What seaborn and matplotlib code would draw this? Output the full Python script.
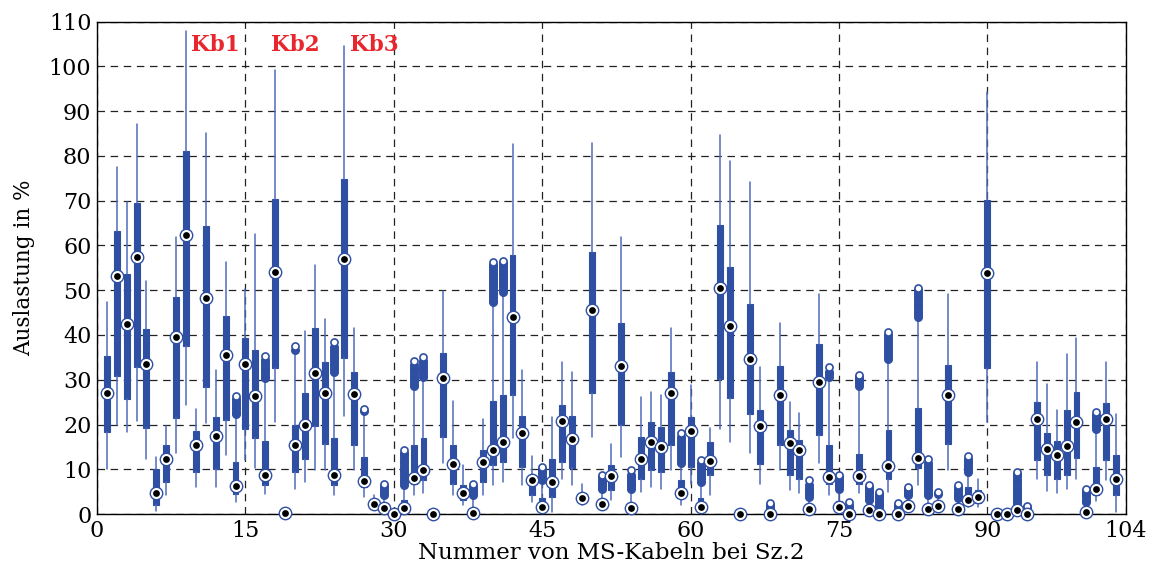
import numpy as np
import pandas as pd
import matplotlib
matplotlib.use("Agg")
import matplotlib.pyplot as plt
import seaborn as sns

# ---------------- data ----------------
cable_ids = list(range(1, 104))

whisker_low = [10.0, 19.8, 18.3, 20.8, 12.2, 0.7, 4.2, 13.7, 24.3, 6.1,
               20.4, 6.1, 13.1, 2.7, 12.0, 10.2, 4.5, 20.6, 0.2, 5.7,
               7.2, 9.8, 9.8, 4.2, 22.0, 9.8, 3.9, 1.0, 0.3, 0.0,
               0.3, 4.2, 4.6, 0.0, 11.3, 4.2, 2.0, 0.0, 4.2, 6.5,
               7.2, 16.9, 6.5, 2.6, 0.2, 0.5, 7.9, 6.5, 2.0, 17.2,
               1.0, 3.1, 12.8, 0.2, 5.0, 6.1, 5.7, 9.8, 2.0, 6.8,
               0.5, 4.2, 18.9, 16.1, 0.0, 13.7, 6.8, 0.0, 9.8, 5.3,
               4.6, 0.2, 11.3, 4.2, 0.3, 0.0, 4.6, 0.1, 0.0, 5.0,
               0.1, 0.8, 6.5, 0.2, 0.8, 9.8, 0.2, 1.5, 1.6, 20.6,
               0.0, 0.0, 0.1, 0.0, 7.9, 5.1, 4.6, 5.7, 7.9, 0.1,
               2.9, 7.6, 0.5]

q1 = [18.3, 30.8, 25.6, 32.8, 19.3, 2.0, 7.2, 21.5, 37.6, 9.4,
      28.4, 10.0, 20.9, 4.5, 18.9, 16.9, 6.5, 32.6, 0.2, 9.4,
      12.4, 19.7, 15.7, 6.5, 34.9, 15.4, 6.0, 1.8, 0.8, 0.0,
      0.8, 6.8, 7.6, 0.0, 17.2, 6.8, 3.1, 0.1, 7.2, 10.9,
      11.7, 26.7, 10.5, 4.2, 0.8, 3.9, 11.7, 10.2, 2.8, 27.1,
      1.6, 5.3, 20.0, 0.8, 7.9, 9.8, 9.3, 15.4, 3.9, 10.5,
      1.0, 8.8, 30.2, 26.0, 0.0, 22.3, 11.1, 0.0, 15.4, 8.8,
      7.9, 0.6, 17.7, 6.8, 0.8, 0.0, 6.8, 0.4, 0.0, 7.9,
      0.1, 1.4, 10.3, 0.6, 1.3, 15.7, 0.6, 2.3, 2.4, 32.6,
      0.0, 0.0, 0.4, 0.0, 12.0, 8.7, 7.8, 8.8, 12.5, 0.3,
      4.2, 12.0, 4.2]

median = [27.1, 53.2, 42.4, 57.5, 33.6, 4.8, 12.2, 39.6, 62.4, 15.4,
          48.2, 17.4, 35.6, 6.2, 33.6, 26.3, 8.8, 54.1, 0.2, 15.4,
          20.0, 31.6, 27.1, 8.8, 56.9, 26.9, 7.4, 2.2, 1.3, 0.0,
          1.3, 8.1, 9.8, 0.0, 30.4, 11.1, 4.8, 0.3, 11.7, 14.3,
          16.0, 44.1, 18.2, 7.7, 1.5, 7.1, 20.8, 16.7, 3.5, 45.6,
          2.2, 8.5, 33.0, 1.3, 12.4, 16.1, 15.0, 27.1, 4.8, 18.5,
          1.6, 11.9, 50.4, 42.1, 0.0, 34.7, 19.6, 0.0, 26.7, 15.9,
          14.3, 1.1, 29.6, 8.3, 1.5, 0.0, 8.5, 0.9, 0.0, 10.8,
          0.1, 1.9, 12.5, 1.1, 1.9, 26.5, 1.1, 3.1, 3.7, 53.8,
          0.0, 0.0, 0.9, 0.0, 21.3, 14.5, 13.1, 15.1, 20.6, 0.5,
          5.7, 21.3, 7.9]

q3 = [35.3, 63.3, 53.6, 69.6, 41.4, 10.0, 15.4, 48.4, 81.2, 18.6,
      64.4, 21.7, 44.3, 11.7, 39.3, 36.7, 16.3, 70.3, 0.2, 20.0,
      27.0, 41.6, 33.9, 17.0, 74.9, 31.8, 12.8, 2.8, 2.0, 0.0,
      3.1, 15.4, 16.9, 0.0, 36.0, 15.4, 6.5, 1.0, 14.4, 25.2,
      26.7, 57.8, 22.0, 8.7, 3.5, 12.4, 24.4, 21.8, 4.5, 58.6,
      3.0, 10.9, 42.7, 2.5, 17.2, 20.6, 19.5, 31.7, 7.6, 21.7,
      3.5, 16.1, 64.6, 55.2, 0.0, 46.9, 23.3, 0.0, 33.0, 18.7,
      16.5, 2.0, 38.0, 15.4, 2.8, 0.0, 13.3, 1.8, 0.0, 18.7,
      0.1, 2.8, 23.7, 2.0, 2.5, 33.2, 2.0, 6.1, 5.3, 70.1,
      0.0, 0.0, 1.5, 0.0, 25.0, 18.2, 16.3, 23.2, 27.2, 1.2,
      10.5, 24.8, 13.1]

whisker_high = [47.3, 77.5, 69.7, 87.2, 52.1, 12.8, 19.6, 61.9, 108.0, 23.5,
                85.2, 32.2, 56.2, 22.0, 50.3, 62.5, 29.8, 99.3, 0.2, 35.5,
                41.0, 55.6, 43.6, 31.0, 104.5, 41.6, 22.5, 4.2, 3.5, 0.0,
                6.0, 28.0, 30.0, 0.0, 49.9, 25.2, 10.9, 3.8, 21.3, 47.0,
                49.0, 82.6, 32.1, 13.0, 7.0, 21.7, 33.9, 31.7, 6.8, 82.9,
                5.2, 15.7, 61.8, 5.2, 26.1, 27.2, 26.5, 41.5, 11.0, 28.9,
                6.8, 19.2, 84.6, 78.8, 0.0, 74.2, 32.8, 0.3, 42.7, 25.0,
                22.6, 3.5, 49.1, 30.2, 5.3, 0.3, 28.5, 2.8, 0.3, 34.5,
                0.3, 3.9, 43.8, 4.0, 3.8, 49.1, 3.2, 9.0, 7.9, 94.4,
                0.0, 0.0, 2.2, 0.3, 33.9, 29.1, 23.3, 35.8, 39.3, 2.5,
                18.8, 33.9, 22.4]

outliers = {
    14: [22.3, 22.9, 23.5, 24.0, 24.6, 25.2, 25.8, 26.4],
    17: [30.3, 30.9, 31.5, 32.1, 32.7, 33.3, 33.9, 34.5, 35.3],
    20: [36.6, 37.6],
    24: [31.8, 32.4, 33.0, 33.6, 34.2, 34.8, 35.4, 36.0, 36.6, 37.4, 38.5],
    27: [23.1, 23.4],
    29: [4.3, 4.8, 5.3, 5.8, 6.3, 6.8],
    31: [6.5, 7.1, 7.7, 8.3, 8.9, 9.5, 10.1, 10.7, 11.3, 11.9, 12.5, 13.1, 13.7, 14.4],
    32: [28.5, 29.1, 29.7, 30.3, 30.9, 31.5, 32.1, 32.7, 33.4, 34.3],
    33: [30.7, 31.3, 31.9, 32.5, 33.1, 33.7, 34.3, 35.0],
    38: [4.2, 4.7, 5.2, 5.7, 6.2, 6.8],
    40: [47.3, 47.9, 48.5, 49.1, 49.7, 50.3, 50.9, 51.5, 52.1, 52.7, 53.3,
         53.9, 54.5, 55.1, 55.7, 56.2],
    41: [49.5, 50.1, 50.7, 51.3, 51.9, 52.5, 53.1, 53.7, 54.3, 54.9, 55.5,
         56.1, 56.6],
    45: [7.6, 8.1, 8.6, 9.1, 9.6, 10.1, 10.5],
    51: [5.7, 6.2, 6.7, 7.2, 7.7, 8.2, 8.7],
    54: [5.7, 6.2, 6.7, 7.2, 7.7, 8.2, 8.7, 9.8],
    59: [11.3, 11.9, 12.5, 13.1, 13.7, 14.3, 14.9, 15.5, 16.1, 16.7, 17.3, 18.0],
    61: [7.2, 7.8, 8.4, 9.0, 9.6, 10.2, 10.8, 11.4, 12.0],
    68: [0.5, 1.0, 1.5, 2.0, 2.5],
    72: [3.9, 4.4, 4.9, 5.4, 5.9, 6.4, 7.6],
    74: [30.6, 31.2, 31.8, 32.8],
    75: [5.7, 6.2, 6.7, 7.2, 7.7, 8.2, 8.7],
    76: [0.5, 1.0, 1.5, 2.0, 2.6],
    77: [28.7, 29.2, 29.7, 30.2, 30.7, 31.0],
    78: [3.1, 3.6, 4.1, 4.6, 5.1, 5.6, 6.1, 6.5],
    79: [0.5, 1.0, 1.5, 2.0, 2.5, 3.0, 3.5, 4.0, 4.5, 5.0],
    80: [34.7, 35.3, 35.9, 36.5, 37.1, 37.7, 38.3, 38.9, 39.5, 40.1, 40.7],
    81: [0.5, 1.0, 1.5, 2.0, 2.5],
    82: [4.2, 4.7, 5.2, 5.7, 6.1],
    83: [44.0, 44.6, 45.2, 45.8, 46.4, 47.0, 47.6, 48.2, 48.8, 49.4, 50.0, 50.6],
    84: [4.2, 4.8, 5.4, 6.0, 6.6, 7.2, 7.8, 8.4, 9.0, 9.6, 10.2, 10.8, 11.4, 12.2],
    85: [4.5, 5.0],
    87: [3.5, 4.0, 4.5, 5.0, 5.5, 6.0, 6.5],
    88: [9.4, 9.9, 10.4, 10.9, 11.4, 11.9, 12.4, 13.0],
    93: [2.4, 2.9, 3.4, 3.9, 4.4, 4.9, 5.4, 5.9, 6.4, 6.9, 7.4, 7.9, 8.4, 8.9, 9.4],
    94: [0.5, 1.0, 1.5, 1.8],
    100: [2.7, 3.2, 3.7, 4.2, 4.7, 5.2, 5.7],
    101: [19.1, 19.6, 20.1, 20.6, 21.1, 21.6, 22.1, 22.7],
}

x_ticks = [0, 15, 30, 45, 60, 75, 90, 104]
y_ticks = list(range(0, 111, 10))
kb_labels = ["Kb1", "Kb2", "Kb3"]
kb_cables = [12, 20, 28]

x_label = "Nummer von MS-Kabeln bei Sz.2"
y_label = "Auslastung in %"

# ---------------- style ----------------
sns.set_theme(style="white")
plt.rcParams["font.family"] = ["DejaVu Serif"]

BLUE = "#2f4fa3"
WHISK = "#4f6cbd"

fig = plt.figure(figsize=(11.56, 5.71), dpi=100)
ax = fig.add_axes([0.0839, 0.0998, 0.8901, 0.8622])

stats = [dict(med=m, q1=a, q3=b, whislo=lo, whishi=hi, fliers=[])
         for m, a, b, lo, hi in zip(median, q1, q3, whisker_low, whisker_high)]
ax.bxp(stats, positions=cable_ids, widths=0.6, patch_artist=True,
       showcaps=False, showfliers=False, manage_ticks=False,
       boxprops=dict(facecolor=BLUE, edgecolor=BLUE, linewidth=0.8),
       whiskerprops=dict(color=WHISK, linewidth=1.1),
       medianprops=dict(linewidth=0))

# outliers: dense clusters appear as filled blobs, topmost one hollow
rows = []
for k, vals in outliers.items():
    top = max(vals)
    for v in vals:
        rows.append((k, v, v == top))
out_df = pd.DataFrame(rows, columns=["cable", "value", "top"])
sns.scatterplot(data=out_df[~out_df["top"]], x="cable", y="value", ax=ax, s=30,
                color=BLUE, edgecolor=BLUE, linewidth=1.0,
                zorder=4, clip_on=False, legend=False)
sns.scatterplot(data=out_df[out_df["top"]], x="cable", y="value", ax=ax, s=26,
                facecolor="white", edgecolor=BLUE, linewidth=1.2,
                zorder=4, clip_on=False, legend=False)

# medians
med_df = pd.DataFrame({"cable": cable_ids, "median": median})
sns.scatterplot(data=med_df, x="cable", y="median", ax=ax, s=80,
                facecolor="white", edgecolor=BLUE, linewidth=1.0,
                zorder=5, clip_on=False, legend=False)
sns.scatterplot(data=med_df, x="cable", y="median", ax=ax, s=24,
                color="black", edgecolor="black", linewidth=0,
                zorder=6, clip_on=False, legend=False)

# axes
ax.set_xlim(0, 104)
ax.set_ylim(0, 110)
ax.set_xticks(x_ticks)
ax.set_yticks(y_ticks)
ax.tick_params(axis="both", direction="in", length=4, width=0.8,
               labelsize=16, colors="black", pad=4)
ax.set_xlabel(x_label, fontsize=16.5, labelpad=0, color="black")
ax.set_ylabel(y_label, fontsize=15.5, labelpad=10, color="black")
ax.grid(True, color="#222222", linestyle=(0, (6, 4.5)), linewidth=0.9)
ax.set_axisbelow(True)
for sp in ax.spines.values():
    sp.set_color("black")
    sp.set_linewidth(1.0)
    sp.set_visible(True)

for lab, c in zip(kb_labels, kb_cables):
    ax.text(c, 104.8, lab, color="#e8262d", fontsize=15.5, fontweight="bold",
            ha="center", va="center", zorder=7)

fig.savefig("out.png", dpi=100)
